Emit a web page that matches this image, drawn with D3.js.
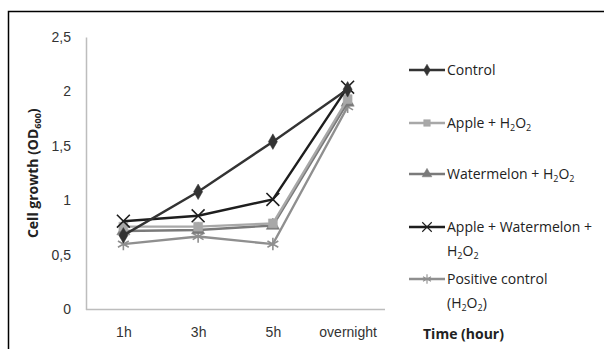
<!DOCTYPE html>
<html>
<head>
<meta charset="utf-8">
<script src="https://cdn.jsdelivr.net/npm/d3@7"></script>
<style>
  html, body { margin: 0; padding: 0; background: #fff; }
  svg { display: block; font-family: "Open Sans", "Liberation Sans", sans-serif; }
</style>
</head>
<body>
<svg id="chart" width="604" height="349"></svg>
<script>
// Time points and OD600 readings per treatment
const times = ["1h", "3h", "5h", "overnight"];
const yTicks = [0, 0.5, 1, 1.5, 2, 2.5];
const control = [0.68, 1.08, 1.54, 2.02];
const appleH2O2 = [0.76, 0.76, 0.79, 1.93];
const watermelonH2O2 = [0.72, 0.73, 0.77, 1.90];
const appleWatermelonH2O2 = [0.81, 0.86, 1.01, 2.04];
const positiveControl = [0.60, 0.67, 0.60, 1.86];

const series = [
  { name: "Control", lines: [["Control"]], values: control, color: "#333333", symbol: "diamond" },
  { name: "Apple + H₂O₂", lines: [["Apple + H", "2", "O", "2"]], values: appleH2O2, color: "#a8a8a8", symbol: "square" },
  { name: "Watermelon + H₂O₂", lines: [["Watermelon + H", "2", "O", "2"]], values: watermelonH2O2, color: "#7a7a7a", symbol: "triangle" },
  { name: "Apple + Watermelon + H₂O₂", lines: [["Apple + Watermelon +"], ["H", "2", "O", "2"]], values: appleWatermelonH2O2, color: "#1e1e1e", symbol: "cross" },
  { name: "Positive control (H₂O₂)", lines: [["Positive control"], ["(H", "2", "O", "2", ")"]], values: positiveControl, color: "#8f8f8f", symbol: "star" }
];

const svg = d3.select("#chart");

// Outer frame
svg.append("rect")
  .attr("x", 8.5).attr("y", 11.5)
  .attr("width", 620).attr("height", 360)
  .attr("fill", "none").attr("stroke", "#000").attr("stroke-width", 1.5);

const plot = { left: 86, right: 385, top: 37, bottom: 309.5 };

const x = d3.scalePoint().domain(times).range([plot.left, plot.right]).padding(0.5);
const y = d3.scaleLinear().domain([0, 2.5]).range([plot.bottom, plot.top]);

// Y axis
const yAxis = d3.axisLeft(y).tickValues(yTicks).tickSize(0).tickPadding(15)
  .tickFormat(d => d3.format("")(d).replace(".", ","));
const gy = svg.append("g").attr("transform", `translate(${plot.left},0)`).call(yAxis);
gy.select(".domain").attr("stroke", "#bdbdbd").attr("stroke-width", 1.5);
gy.selectAll("text").attr("font-size", 14).attr("fill", "#333");

// X axis
const xAxis = d3.axisBottom(x).tickSize(0).tickPadding(18);
const gx = svg.append("g").attr("transform", `translate(0,${plot.bottom})`).call(xAxis);
gx.select(".domain").attr("stroke", "#bdbdbd").attr("stroke-width", 1.5)
  .attr("d", `M${plot.left},0H${plot.right}`);
gx.selectAll("text").attr("font-size", 14).attr("fill", "#333");

// Axis titles
const yTitle = svg.append("text")
  .attr("transform", `translate(38,${(plot.top + plot.bottom) / 2}) rotate(-90)`)
  .attr("text-anchor", "middle").attr("font-size", 14).attr("font-weight", "bold").attr("fill", "#222");
yTitle.append("tspan").text("Cell growth (OD");
yTitle.append("tspan").text("600").attr("font-size", 9).attr("dy", 3);
yTitle.append("tspan").text(")").attr("dy", -3);

svg.append("text")
  .attr("x", 423).attr("y", 339)
  .attr("font-size", 14).attr("font-weight", "bold").attr("fill", "#222")
  .text("Time (hour)");

// Marker shapes
function symbolFor(kind, big) {
  const f = big ? 1 : 0.55;
  const types = {
    diamond: [d3.symbolDiamond, 70],
    square: [d3.symbolSquare, 80],
    triangle: [d3.symbolTriangle, 75],
    cross: [d3.symbolX, 110],
    star: [d3.symbolAsterisk, 110]
  };
  const [t, s] = types[kind];
  return d3.symbol().type(t).size(s * f)();
}
function drawMarker(g, s, cx, cy, big) {
  const stroked = s.symbol === "cross" || s.symbol === "star";
  g.append("path")
    .attr("transform", `translate(${cx},${cy})`)
    .attr("d", symbolFor(s.symbol, big))
    .attr("fill", stroked ? "none" : s.color)
    .attr("stroke", s.color)
    .attr("stroke-width", stroked ? (big ? 1.6 : 1.1) : 0.5);
}

const line = d3.line().x((d, i) => x(times[i])).y(d => y(d));

// Draw series (back to front)
const drawOrder = [4, 2, 1, 3, 0];
drawOrder.forEach(k => {
  const s = series[k];
  const g = svg.append("g");
  g.append("path").datum(s.values)
    .attr("d", line).attr("fill", "none")
    .attr("stroke", s.color).attr("stroke-width", 2.4);
  s.values.forEach((v, i) => drawMarker(g, s, x(times[i]), y(v), true));
});

// Legend
const legendY = [70, 123, 174, 227, 279];
series.forEach((s, k) => {
  const ly = legendY[k];
  const g = svg.append("g");
  g.append("line").attr("x1", 409).attr("x2", 445).attr("y1", ly).attr("y2", ly)
    .attr("stroke", s.color).attr("stroke-width", 2.4);
  drawMarker(g, s, 427, ly, false);
  s.lines.forEach((parts, li) => {
    const t = g.append("text").attr("x", 447).attr("y", ly + 5 + li * 24)
      .attr("font-size", 14).attr("fill", "#222");
    parts.forEach((p, pi) => {
      const isSub = /^\d$/.test(p);
      const ts = t.append("tspan").text(p);
      if (isSub) ts.attr("font-size", 9).attr("dy", 3);
      else if (pi > 0 && /^\d$/.test(parts[pi - 1])) ts.attr("dy", -3);
    });
  });
});
</script>
</body>
</html>
